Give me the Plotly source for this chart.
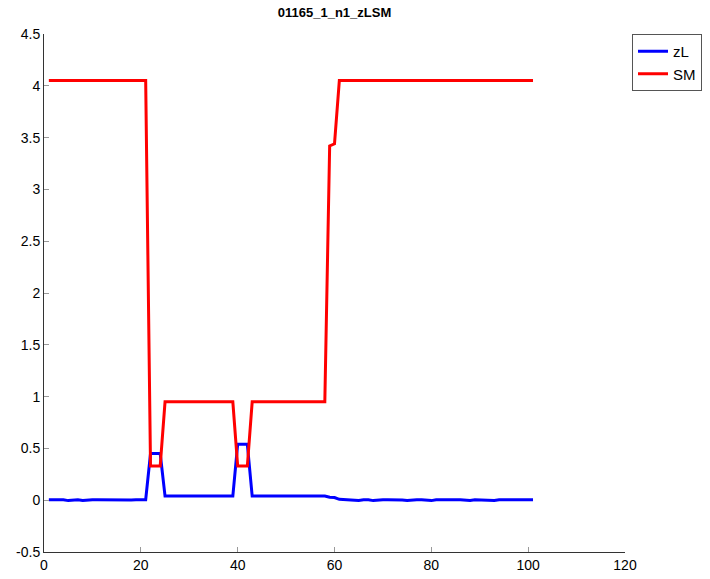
import plotly.graph_objects as go

x_vals = list(range(1, 102))

zL = [0.005, 0.005, 0.004, 0.004, -0.004, 0.003, 0.004, -0.003, 0.004, 0.004,
      0.005, 0.004, 0.004, 0.004, 0.004, 0.003, -0.003, 0.002, 0.004, 0.003,
      0.005, 0.45, 0.45, 0.45, 0.04, 0.04, 0.04, 0.04, 0.04, 0.04,
      0.04, 0.04, 0.04, 0.04, 0.04, 0.04, 0.04, 0.04, 0.04, 0.54,
      0.54, 0.54, 0.04, 0.04, 0.04, 0.04, 0.04, 0.04, 0.04, 0.04,
      0.04, 0.04, 0.04, 0.04, 0.04, 0.042, 0.042, 0.04, 0.028, 0.026,
      0.008, 0.005, 0.004, 0.003, -0.003, 0.004, 0.004, -0.004, 0.003, 0.004,
      0.004, 0.005, 0.004, 0.003, -0.003, 0.004, 0.004, 0.004, 0.003, -0.004,
      0.004, 0.004, 0.003, -0.003, 0.004, 0.005, 0.004, -0.003, 0.004, 0.003,
      0.004, 0.004, -0.003, 0.004, 0.004, 0.003, 0.004, 0.004, 0.004, 0.004,
      0.004]

SM = [4.05, 4.05, 4.05, 4.05, 4.05, 4.05, 4.05, 4.05, 4.05, 4.05,
      4.05, 4.05, 4.05, 4.05, 4.05, 4.05, 4.05, 4.05, 4.05, 4.05,
      4.05, 0.33, 0.33, 0.33, 0.95, 0.95, 0.95, 0.95, 0.95, 0.95,
      0.95, 0.95, 0.95, 0.95, 0.95, 0.95, 0.95, 0.95, 0.95, 0.33,
      0.33, 0.33, 0.95, 0.95, 0.95, 0.95, 0.95, 0.95, 0.95, 0.95,
      0.95, 0.95, 0.95, 0.95, 0.95, 0.95, 0.95, 0.95, 3.42, 3.44,
      4.05, 4.05, 4.05, 4.05, 4.05, 4.05, 4.05, 4.05, 4.05, 4.05,
      4.05, 4.05, 4.05, 4.05, 4.05, 4.05, 4.05, 4.05, 4.05, 4.05,
      4.05, 4.05, 4.05, 4.05, 4.05, 4.05, 4.05, 4.05, 4.05, 4.05,
      4.05, 4.05, 4.05, 4.05, 4.05, 4.05, 4.05, 4.05, 4.05, 4.05,
      4.05]

x_ticks = [0, 20, 40, 60, 80, 100, 120]
x_tick_labels = ["0", "20", "40", "60", "80", "100", "120"]
y_ticks = [-0.5, 0, 0.5, 1, 1.5, 2, 2.5, 3, 3.5, 4, 4.5]
y_tick_labels = ["-0.5", "0", "0.5", "1", "1.5", "2", "2.5", "3", "3.5", "4", "4.5"]

title_text = "01165_1_n1_zLSM"

fig = go.Figure()
fig.add_trace(go.Scatter(x=x_vals, y=zL, mode="lines", name="zL",
                         line=dict(color="#0000ff", width=3)))
fig.add_trace(go.Scatter(x=x_vals, y=SM, mode="lines", name="SM",
                         line=dict(color="#ff0000", width=3)))

axis_common = dict(showgrid=False, zeroline=False, showline=True, automargin=False,
                   linecolor="#333333", linewidth=1, ticks="inside",
                   ticklen=5, tickcolor="#999999", mirror=False,
                   tickfont=dict(family="Liberation Sans, Arial", size=14, color="#000000"))

fig.update_layout(
    width=710, height=579,
    margin=dict(l=44, r=85, t=34, b=27),
    paper_bgcolor="white", plot_bgcolor="white",
    title=dict(text="<b>" + title_text + "</b>", x=(44 + 625) / 2 / 710, xanchor="center",
               y=1 - 12 / 579, yanchor="middle",
               font=dict(family="Liberation Sans, Arial", size=13, color="#000000")),
    xaxis=dict(range=[0, 120], tickmode="array", tickvals=x_ticks, ticktext=x_tick_labels,
               **axis_common),
    yaxis=dict(range=[-0.5, 4.5], tickmode="array", tickvals=y_ticks, ticktext=y_tick_labels,
               **axis_common),
    legend=dict(xref="container", yref="container",
                x=632 / 710, xanchor="left", y=1 - 34 / 579, yanchor="top",
                bgcolor="white", bordercolor="#555555", borderwidth=1,
                font=dict(family="Liberation Sans, Arial", size=15, color="#000000"),
                itemwidth=30, tracegroupgap=0, entrywidth=76),
    showlegend=True,
)

fig.write_html("out.html", config={"displayModeBar": False},
               post_script="document.body.style.margin='0px';document.body.style.overflow='hidden';")
